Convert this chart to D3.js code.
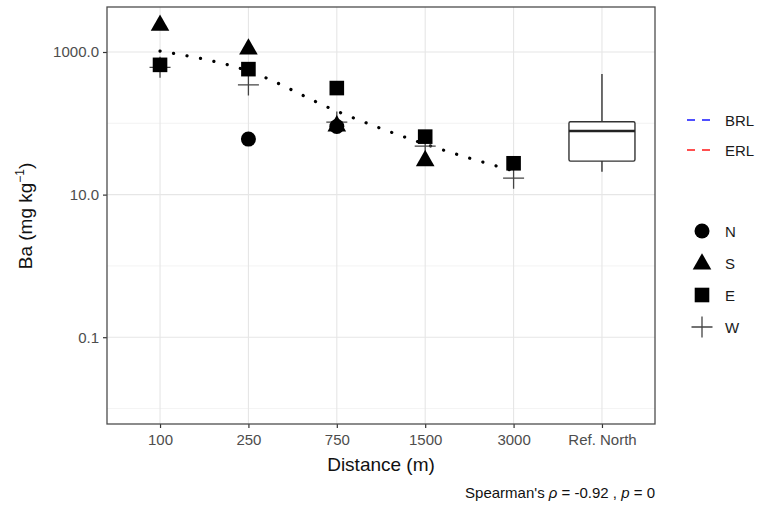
<!DOCTYPE html>
<html><head><meta charset="utf-8">
<script src="https://cdn.jsdelivr.net/npm/d3@7"></script>
<style>body{margin:0;background:#fff}text{font-family:"Liberation Sans",Arial,sans-serif}</style>
</head><body>
<svg id="c" width="776" height="507"></svg>
<script>
const categories = ["100","250","750","1500","3000","Ref. North"];
const yTicks = [0.1, 10, 1000];
const yMinor = [0.01, 1, 100];
const yTickLabels = ["0.1","10.0","1000.0"];
// points by direction
const pointsN = [{d:"250",v:60},{d:"750",v:90}];
const pointsS = [{d:"100",v:2450},{d:"250",v:1140},{d:"750",v:95},{d:"1500",v:31}];
const pointsE = [{d:"100",v:660},{d:"250",v:575},{d:"750",v:312},{d:"1500",v:65},{d:"3000",v:27.5}];
const pointsW = [{d:"100",v:610},{d:"250",v:345},{d:"750",v:104},{d:"1500",v:48},{d:"3000",v:17}];
// trend (dotted)
const trendDist = ["100","250","750","1500","3000"];
const trendVals = [1030, 540, 148, 51, 21.5];
// reference box
const refBox = {lowW:21, q1:29.5, med:78, q3:105, highW:490};
const legendLines = [{label:"BRL",color:"#4f4fff"},{label:"ERL",color:"#ff4f4f"}];
const legendShapes = ["N","S","E","W"];

const svg = d3.select("#c");
const L=107,R=655,T=7,B=424;
const x = d3.scalePoint().domain(categories).range([L,R]).padding(0.6);
const y = d3.scaleLog().domain([Math.pow(10,-2.217), Math.pow(10,3.631)]).range([B,T]);

// background grid
const g = svg.append("g");
g.selectAll(".gm").data(yMinor).join("line").attr("x1",L).attr("x2",R)
 .attr("y1",d=>y(d)).attr("y2",d=>y(d)).attr("stroke","#f0f0f0").attr("stroke-width",0.8);
g.selectAll(".gy").data(yTicks).join("line").attr("x1",L).attr("x2",R)
 .attr("y1",d=>y(d)).attr("y2",d=>y(d)).attr("stroke","#e6e6e6").attr("stroke-width",1.1);
g.selectAll(".gx").data(categories).join("line").attr("y1",T).attr("y2",B)
 .attr("x1",d=>x(d)).attr("x2",d=>x(d)).attr("stroke","#e6e6e6").attr("stroke-width",1.1);

// axes
const ya = svg.append("g").attr("transform",`translate(${L},0)`)
 .call(d3.axisLeft(y).tickValues(yTicks).tickFormat((d,i)=>yTickLabels[i]).tickSize(4).tickPadding(4));
const xa = svg.append("g").attr("transform",`translate(0,${B})`)
 .call(d3.axisBottom(x).tickSize(4).tickPadding(6));
[ya,xa].forEach(a=>{a.select(".domain").remove();
 a.selectAll(".tick line").attr("stroke","#333").attr("stroke-width",1.2);
 a.selectAll(".tick text").attr("fill","#4d4d4d").style("font-size","15px").style("font-family","Liberation Sans, Arial, sans-serif");});

// trend dotted line
const line = d3.line().x(d=>x(d.d)).y(d=>y(d.v)).curve(d3.curveMonotoneX);
svg.append("path").datum(trendDist.map((d,i)=>({d,v:trendVals[i]})))
 .attr("d",line).attr("fill","none").attr("stroke","#000").attr("stroke-width",3.2)
 .attr("stroke-linecap","round").attr("stroke-dasharray","0.1,13.6");

// box
const bw = 66, bx = x("Ref. North");
const bg = svg.append("g").attr("stroke","#333").attr("stroke-width",1.4).attr("fill","#fff");
bg.append("line").attr("x1",bx).attr("x2",bx).attr("y1",y(refBox.highW)).attr("y2",y(refBox.q3));
bg.append("line").attr("x1",bx).attr("x2",bx).attr("y1",y(refBox.q1)).attr("y2",y(refBox.lowW));
bg.append("rect").attr("x",bx-bw/2).attr("width",bw).attr("y",y(refBox.q3)).attr("height",y(refBox.q1)-y(refBox.q3)).attr("rx",1.5);
bg.append("line").attr("x1",bx-bw/2).attr("x2",bx+bw/2).attr("y1",y(refBox.med)).attr("y2",y(refBox.med)).attr("stroke-width",2.6).attr("stroke","#222");

// shapes
function drawShape(sel, type){
  if(type==="N") sel.append("circle").attr("r",7.5).attr("fill","#000");
  else if(type==="S") sel.append("path").attr("d","M0,-9.8L9.3,6.6L-9.3,6.6Z").attr("fill","#000");
  else if(type==="E") sel.append("rect").attr("x",-7.3).attr("y",-7.3).attr("width",14.6).attr("height",14.6).attr("fill","#000");
  else { sel.append("path").attr("d","M-10.5,0H10.5M0,-10.5V10.5").attr("stroke","#444").attr("stroke-width",1.3).attr("fill","none"); }
}
const sets = [["W",pointsW],["N",pointsN],["S",pointsS],["E",pointsE]];
sets.forEach(([t,arr])=>{
  arr.forEach(p=>{ const s=svg.append("g").attr("transform",`translate(${x(p.d)},${y(p.v)})`); drawShape(s,t); });
});

// panel border
svg.append("rect").attr("x",L).attr("y",T).attr("width",R-L).attr("height",B-T)
 .attr("fill","none").attr("stroke","#4d4d4d").attr("stroke-width",1.3);

// axis titles
svg.append("text").attr("x",(L+R)/2).attr("y",471).attr("text-anchor","middle")
 .style("font-size","19px").attr("fill","#111").text("Distance (m)");
const yt = svg.append("text").attr("transform","translate(32,216) rotate(-90)").attr("text-anchor","middle")
 .style("font-size","19px").attr("fill","#111");
yt.append("tspan").text("Ba (mg kg");
yt.append("tspan").attr("dy",-8).style("font-size","12px").text("−1");
yt.append("tspan").attr("dy",8).text(")");

// caption
const cap = svg.append("text").attr("x",655).attr("y",498).attr("text-anchor","end")
 .style("font-size","15px").attr("fill","#111");
cap.append("tspan").text("Spearman's ");
cap.append("tspan").style("font-style","italic").text("ρ");
cap.append("tspan").text(" = -0.92 , ");
cap.append("tspan").style("font-style","italic").text("p");
cap.append("tspan").text(" = 0");

// legend
legendLines.forEach((d,i)=>{
  const yy = 120 + i*30;
  svg.append("line").attr("x1",687).attr("x2",710).attr("y1",yy).attr("y2",yy)
   .attr("stroke",d.color).attr("stroke-width",1.8).attr("stroke-dasharray","8,7");
  svg.append("text").attr("x",725).attr("y",yy+5.5).style("font-size","15px").attr("fill","#1a1a1a").text(d.label);
});
const lys = [231,263,295,327];
legendShapes.forEach((t,i)=>{
  const s = svg.append("g").attr("transform",`translate(702,${lys[i]})`); drawShape(s,t);
  svg.append("text").attr("x",725).attr("y",lys[i]+5.5).style("font-size","15px").attr("fill","#1a1a1a").text(t);
});
</script>
</body></html>
